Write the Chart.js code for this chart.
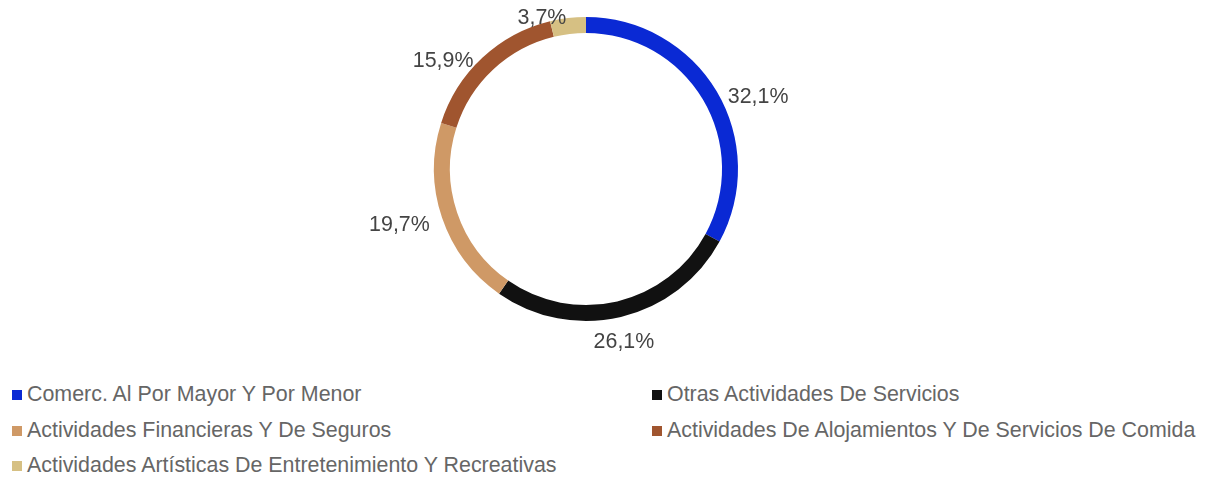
<!DOCTYPE html>
<html>
<head>
<meta charset="utf-8">
<script src="https://cdn.jsdelivr.net/npm/chart.js@4.4.0/dist/chart.umd.min.js"></script>
<style>
  html, body { margin: 0; padding: 0; background: #fff; }
  body { width: 1213px; height: 477px; position: relative; overflow: hidden; font-family: "Liberation Sans", Arial, sans-serif; }
  #wrap { position: absolute; left: 0; top: 0; width: 1172px; height: 360px; }
  #legend { position: absolute; left: 0; top: 381px; width: 1213px; }
  .item { position: absolute; font-size: 21.4px; color: #666; line-height: 26px; white-space: nowrap; }
  .item span.box { display: inline-block; width: 10px; height: 10px; margin-right: 5px; vertical-align: 1px; }
</style>
</head>
<body>
<div id="wrap"><canvas id="sectorChart"></canvas></div>
<div id="legend"></div>
<script>
const categories = [
  "Comerc. Al Por Mayor Y Por Menor",
  "Otras Actividades De Servicios",
  "Actividades Financieras Y De Seguros",
  "Actividades De Alojamientos Y De Servicios De Comida",
  "Actividades Artísticas De Entretenimiento Y Recreativas"
];
const shares = [32.1, 26.1, 19.7, 15.9, 3.7];
const colors = ["#0a29d4", "#111111", "#cf9966", "#a0552f", "#d6c083"];

// value labels hung off the ring at each slice's mid angle
const outsideLabels = {
  id: "outsideLabels",
  afterDatasetsDraw(chart) {
    const ctx = chart.ctx;
    const meta = chart.getDatasetMeta(0);
    ctx.save();
    ctx.font = "21.4px 'Liberation Sans', Arial, sans-serif";
    ctx.fillStyle = "#444";
    ctx.textBaseline = "top";
    meta.data.forEach((arc, i) => {
      const p = arc.getProps(["x", "y", "startAngle", "endAngle", "outerRadius"], true);
      const mid = (p.startAngle + p.endAngle) / 2;
      const ux = Math.cos(mid), uy = Math.sin(mid);
      const r = p.outerRadius + 13;
      const text = shares[i].toFixed(1).replace(".", ",") + "%";
      ctx.textAlign = ux > 0.3 ? "left" : (ux < -0.05 ? "right" : "center");
      const dy = uy > 0 && Math.abs(ux) > 0.3 ? -8 : 2;
      ctx.fillText(text, p.x + ux * r, p.y + uy * r + dy);
    });
    ctx.restore();
  }
};

new Chart(document.getElementById("sectorChart"), {
  type: "doughnut",
  data: {
    labels: categories,
    datasets: [{
      data: shares,
      backgroundColor: colors,
      borderWidth: 0
    }]
  },
  options: {
    responsive: true,
    maintainAspectRatio: false,
    animation: false,
    cutout: "89.5%",
    layout: { padding: { top: 17, bottom: 39 } },
    plugins: {
      legend: { display: false },
      tooltip: { enabled: false }
    }
  },
  plugins: [outsideLabels]
});

const legend = document.getElementById("legend");
categories.forEach((name, i) => {
  const div = document.createElement("div");
  div.className = "item";
  div.style.left = (i % 2 === 0 ? 12 : 652) + "px";
  div.style.top = (Math.floor(i / 2) * 35.5) + "px";
  div.innerHTML = '<span class="box" style="background:' + colors[i] + '"></span>' + name;
  legend.appendChild(div);
});
</script>
</body>
</html>
